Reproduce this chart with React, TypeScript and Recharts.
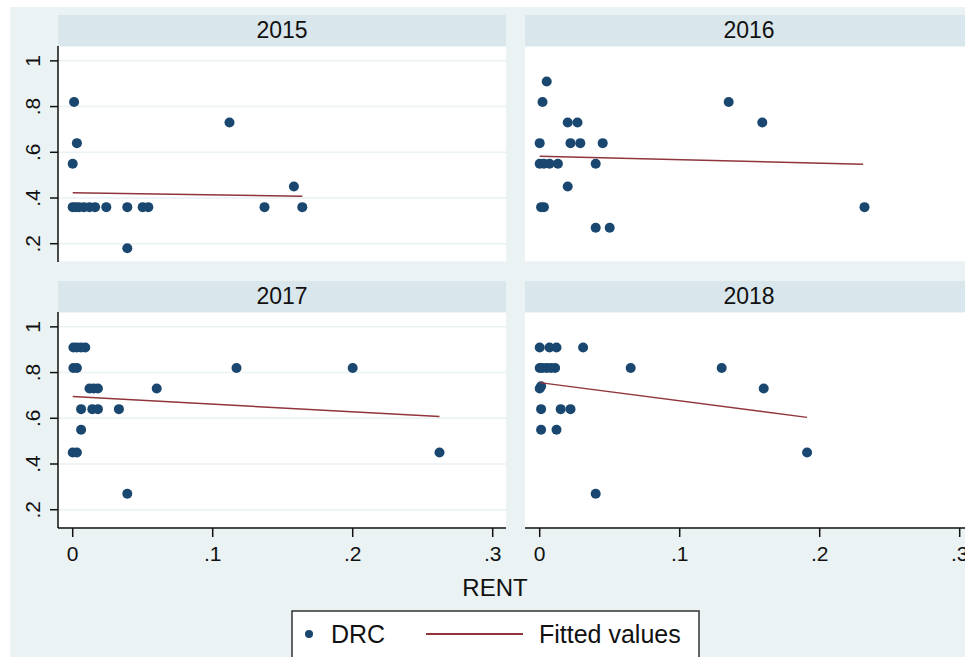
import React from "react";
import { ScatterChart, Scatter, XAxis, YAxis, CartesianGrid } from "recharts";

const FONT = "Arial, 'Liberation Sans', Helvetica, sans-serif";
const NAVY = "#1a476f";
const MAROON = "#90353b";
const BG = "#eaf2f3";
const STRIP = "#d9e6eb";

const panelTitles: string[] = ["2015", "2016", "2017", "2018"];

// RENT (x) and DRC (y) per year
const rent2015 = [0.001, 0.003, 0, 0.112, 0.158, 0, 0.002, 0.0045, 0.008, 0.012, 0.016, 0.024, 0.039, 0.05, 0.054, 0.137, 0.164, 0.039];
const drc2015 = [0.82, 0.64, 0.55, 0.73, 0.45, 0.36, 0.36, 0.36, 0.36, 0.36, 0.36, 0.36, 0.36, 0.36, 0.36, 0.36, 0.36, 0.18];

const rent2016 = [0.005, 0.002, 0.135, 0.02, 0.027, 0.159, 0, 0.022, 0.029, 0.045, 0, 0.003, 0.007, 0.013, 0.04, 0.02, 0.001, 0.003, 0.232, 0.04, 0.05];
const drc2016 = [0.91, 0.82, 0.82, 0.73, 0.73, 0.73, 0.64, 0.64, 0.64, 0.64, 0.55, 0.55, 0.55, 0.55, 0.55, 0.45, 0.36, 0.36, 0.36, 0.27, 0.27];

const rent2017 = [0.0005, 0.003, 0.006, 0.009, 0.0005, 0.003, 0.117, 0.2, 0.012, 0.015, 0.018, 0.06, 0.006, 0.014, 0.018, 0.033, 0.006, 0, 0.003, 0.262, 0.039];
const drc2017 = [0.91, 0.91, 0.91, 0.91, 0.82, 0.82, 0.82, 0.82, 0.73, 0.73, 0.73, 0.73, 0.64, 0.64, 0.64, 0.64, 0.55, 0.45, 0.45, 0.45, 0.27];

const rent2018 = [0, 0.007, 0.012, 0.031, 0, 0.002, 0.005, 0.008, 0.011, 0.065, 0.13, 0, 0.001, 0.16, 0.001, 0.015, 0.022, 0.001, 0.012, 0.191, 0.04];
const drc2018 = [0.91, 0.91, 0.91, 0.91, 0.82, 0.82, 0.82, 0.82, 0.82, 0.82, 0.82, 0.73, 0.74, 0.73, 0.64, 0.64, 0.64, 0.55, 0.55, 0.45, 0.27];

// fitted values: endpoints of the linear fit
const fitRent2015 = [0, 0.164];
const fitDrc2015 = [0.423, 0.408];
const fitRent2016 = [0, 0.231];
const fitDrc2016 = [0.583, 0.548];
const fitRent2017 = [0, 0.262];
const fitDrc2017 = [0.695, 0.608];
const fitRent2018 = [0, 0.191];
const fitDrc2018 = [0.756, 0.604];

const xTicks = [0, 0.1, 0.2, 0.3];
const yTicks = [0.2, 0.4, 0.6, 0.8, 1];

const zip = (xs: number[], ys: number[]) => xs.map((x, i) => ({ x, y: ys[i] }));

const fmt = (v: number) => (v === 0 ? "0" : v === 1 ? "1" : v.toFixed(1).replace(/^0/, ""));

const PLOT_W = 448;
const PLOT_H = 216;
const Y_AXIS_W = 58;
const X_AXIS_H = 50;

const YTick = (props: any) => {
  const { y, payload } = props;
  return (
    <text x={40} y={y} transform={`rotate(-90 40 ${y})`} textAnchor="middle" fontSize={21} fontFamily={FONT} fill="#111">
      {fmt(payload.value)}
    </text>
  );
};

const XTick = (props: any) => {
  const { x, payload } = props;
  return (
    <text x={x} y={PLOT_H + 33} textAnchor="middle" fontSize={21} fontFamily={FONT} fill="#111">
      {fmt(payload.value)}
    </text>
  );
};

const Dot = (props: any) => <circle cx={props.cx} cy={props.cy} r={5} fill={NAVY} />;

interface PanelProps {
  title: string;
  points: { x: number; y: number }[];
  fit: { x: number; y: number }[];
  plotLeft: number;
  plotTop: number;
  showX: boolean;
  showY: boolean;
}

function Panel({ title, points, fit, plotLeft, plotTop, showX, showY }: PanelProps) {
  const chartLeft = showY ? plotLeft - Y_AXIS_W : plotLeft;
  const width = PLOT_W + (showY ? Y_AXIS_W : 0);
  const height = PLOT_H + (showX ? X_AXIS_H : 0);
  return (
    <>
      <div
        style={{
          position: "absolute",
          left: plotLeft,
          top: plotTop - 31,
          width: PLOT_W,
          height: 31,
          background: STRIP,
          display: "flex",
          alignItems: "center",
          justifyContent: "center",
          fontFamily: FONT,
          fontSize: 23,
          color: "#111",
        }}
      >
        {title}
      </div>
      <div style={{ position: "absolute", left: chartLeft, top: plotTop }}>
        <ScatterChart width={width} height={height} margin={{ top: 0, right: 0, bottom: 0, left: 0 }}>
          <CartesianGrid vertical={false} stroke={BG} strokeWidth={1.5} fill="#ffffff" />
          <XAxis
            type="number"
            dataKey="x"
            domain={[-0.0105, 0.3095]}
            ticks={xTicks}
            allowDataOverflow
            hide={!showX}
            height={X_AXIS_H}
            stroke="#111"
            strokeWidth={1.5}
            tickSize={9}
            tick={<XTick />}
          />
          <YAxis
            type="number"
            dataKey="y"
            domain={[0.12, 1.065]}
            ticks={yTicks}
            allowDataOverflow
            width={showY ? Y_AXIS_W : 0}
            axisLine={showY ? { stroke: "#111", strokeWidth: 1.5 } : false}
            tickLine={showY ? { stroke: "#111", strokeWidth: 1.5 } : false}
            tickSize={8}
            tick={showY ? <YTick /> : false}
          />
          <Scatter data={points} shape={<Dot />} isAnimationActive={false} />
          <Scatter
            data={fit}
            line={{ stroke: MAROON, strokeWidth: 1.5 }}
            shape={() => <g />}
            isAnimationActive={false}
          />
        </ScatterChart>
      </div>
    </>
  );
}

export default function App() {
  return (
    <div style={{ position: "absolute", left: 0, top: 0, width: 965, height: 657, overflow: "hidden", background: "#fff" }}>
      <div style={{ position: "absolute", left: 10, top: 7, width: 955, height: 650, background: BG }} />
      <Panel title={panelTitles[0]} points={zip(rent2015, drc2015)} fit={zip(fitRent2015, fitDrc2015)} plotLeft={58} plotTop={46} showX={false} showY={true} />
      <Panel title={panelTitles[1]} points={zip(rent2016, drc2016)} fit={zip(fitRent2016, fitDrc2016)} plotLeft={525} plotTop={46} showX={false} showY={false} />
      <Panel title={panelTitles[2]} points={zip(rent2017, drc2017)} fit={zip(fitRent2017, fitDrc2017)} plotLeft={58} plotTop={311.7} showX={true} showY={true} />
      <Panel title={panelTitles[3]} points={zip(rent2018, drc2018)} fit={zip(fitRent2018, fitDrc2018)} plotLeft={525} plotTop={311.7} showX={true} showY={false} />
      <svg width={965} height={657} style={{ position: "absolute", left: 0, top: 0 }}>
        <text x={495} y={596} textAnchor="middle" fontSize={24} fontFamily={FONT} fill="#111">
          RENT
        </text>
        <rect x={292} y={611} width={407} height={60} fill="#fff" stroke="#333" strokeWidth={1.5} />
        <circle cx={309} cy={634} r={4} fill={NAVY} />
        <text x={331} y={643} fontSize={25} fontFamily={FONT} fill="#111">
          DRC
        </text>
        <line x1={426} x2={523} y1={634} y2={634} stroke={MAROON} strokeWidth={2} />
        <text x={539} y={643} fontSize={25} fontFamily={FONT} fill="#111">
          Fitted values
        </text>
      </svg>
    </div>
  );
}
